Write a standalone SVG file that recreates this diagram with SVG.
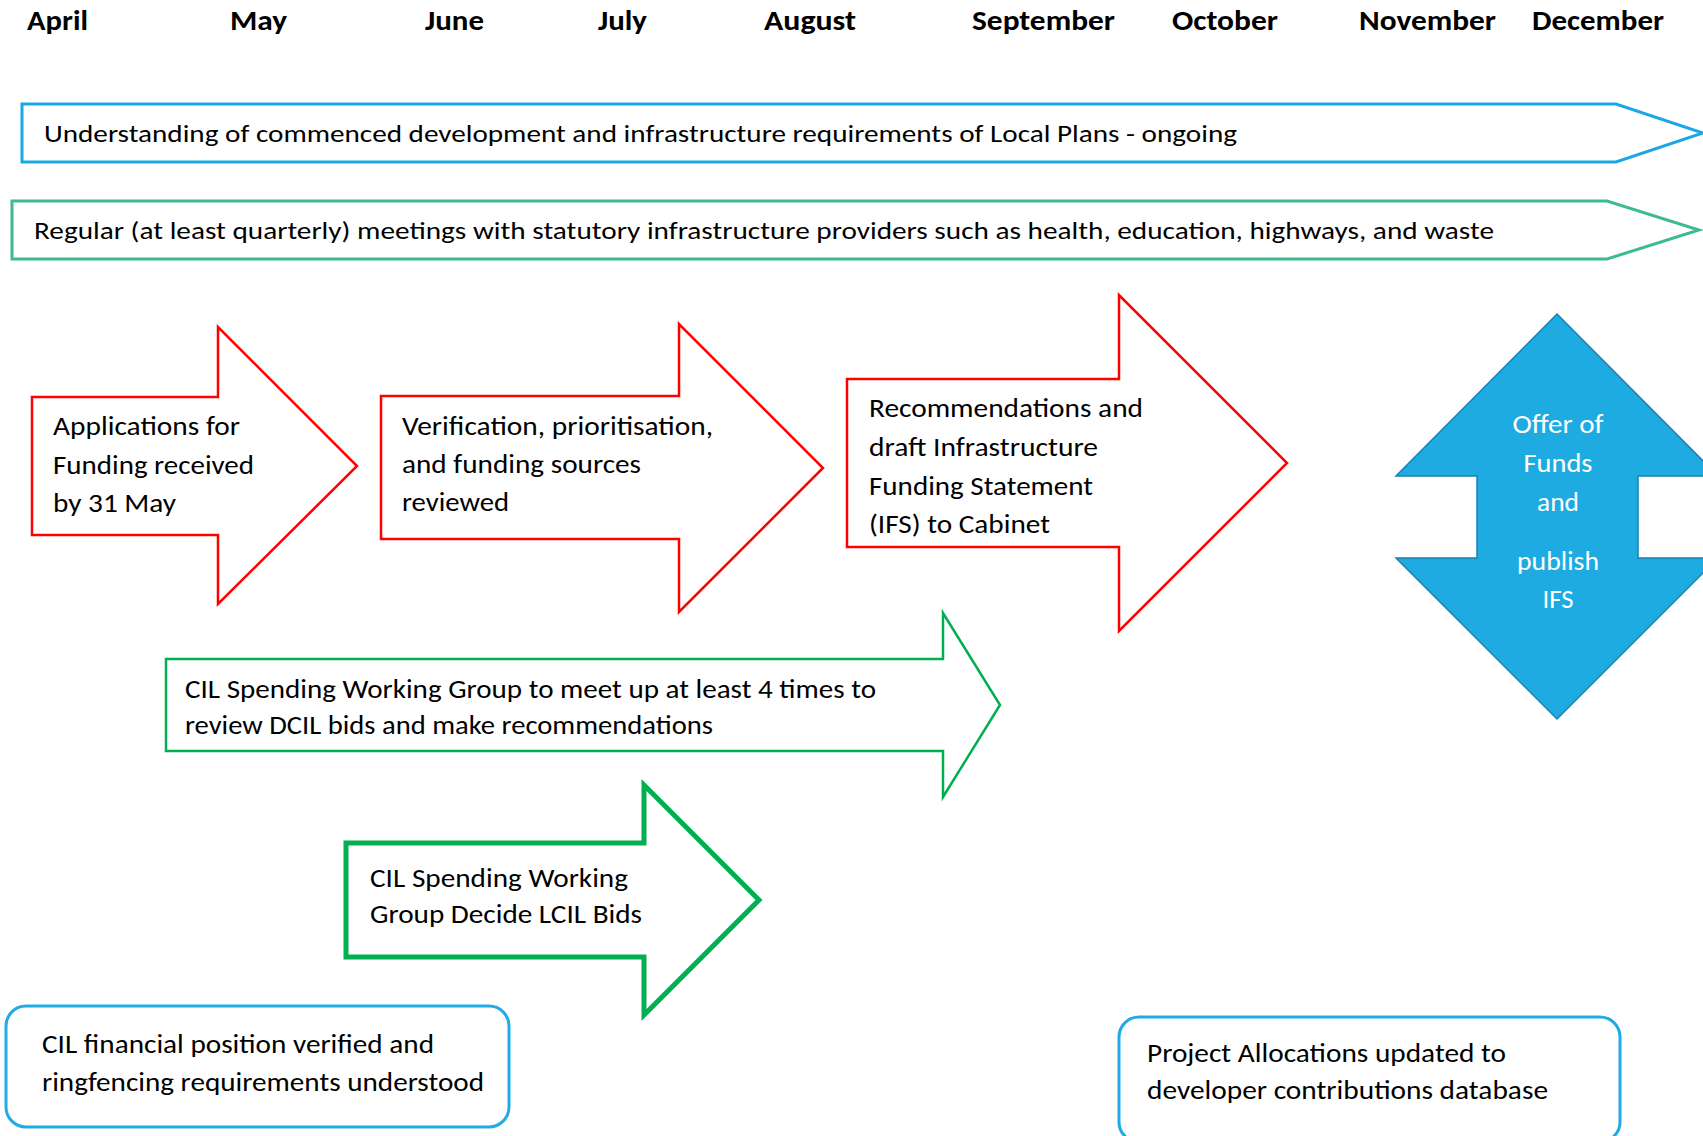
<svg xmlns="http://www.w3.org/2000/svg" width="1703" height="1136" viewBox="0 0 1703 1136">
<style>
text { font-family: Carlito, Calibri, Lato, "Noto Sans", sans-serif; fill: #000000; }
.month { font-size: 29px; font-weight: bold; }
.band { font-size: 25px; }
.body { font-size: 27px; }
.white { fill: #ffffff; }
.red { fill: #ffffff; stroke: #ff0000; stroke-width: 2.5; stroke-linejoin: miter; }
.grn { fill: #ffffff; stroke: #00b050; stroke-width: 2.5; }
.grnthick { fill: #ffffff; stroke: #00b050; stroke-width: 5; }
.blueband { fill: #ffffff; stroke: #1aa7e3; stroke-width: 3; }
.tealband { fill: #ffffff; stroke: #3dbb90; stroke-width: 3; }
.rbox { fill: #ffffff; stroke: #1eabe6; stroke-width: 3; }
</style>
<rect width="1703" height="1136" fill="#ffffff"/>
<g id="months">
<text class="month" x="27" y="30" textLength="61" lengthAdjust="spacingAndGlyphs">April</text>
<text class="month" x="230" y="30" textLength="57" lengthAdjust="spacingAndGlyphs">May</text>
<text class="month" x="425" y="30" textLength="59" lengthAdjust="spacingAndGlyphs">June</text>
<text class="month" x="598" y="30" textLength="49" lengthAdjust="spacingAndGlyphs">July</text>
<text class="month" x="764" y="30" textLength="92" lengthAdjust="spacingAndGlyphs">August</text>
<text class="month" x="972" y="30" textLength="143" lengthAdjust="spacingAndGlyphs">September</text>
<text class="month" x="1172" y="30" textLength="106" lengthAdjust="spacingAndGlyphs">October</text>
<text class="month" x="1359" y="30" textLength="137" lengthAdjust="spacingAndGlyphs">November</text>
<text class="month" x="1532" y="30" textLength="132" lengthAdjust="spacingAndGlyphs">December</text>
</g>
<g id="band-understanding">
<polygon class="blueband" points="22,104 1616,104 1703,133 1616,162 22,162"/>
<text class="band" x="44" y="142" textLength="1193" lengthAdjust="spacingAndGlyphs">Understanding of commenced development and infrastructure requirements of Local Plans - ongoing</text>
</g>
<g id="band-meetings">
<polygon class="tealband" points="12,201 1607,201 1699,230 1607,259 12,259"/>
<text class="band" x="34" y="239" textLength="1460" lengthAdjust="spacingAndGlyphs">Regular (at least quarterly) meetings with statutory infrastructure providers such as health, education, highways, and waste</text>
</g>
<g id="arrow-applications">
<polygon class="red" points="32,397 218,397 218,327 357,466 218,604 218,535 32,535"/>
<text class="body" x="53" y="435" textLength="187" lengthAdjust="spacingAndGlyphs">Applications for</text>
<text class="body" x="53" y="473.5" textLength="201" lengthAdjust="spacingAndGlyphs">Funding received</text>
<text class="body" x="53" y="512" textLength="123" lengthAdjust="spacingAndGlyphs">by 31 May</text>
</g>
<g id="arrow-verification">
<polygon class="red" points="381,396 679,396 679,324 823,468 679,612 679,539 381,539"/>
<text class="body" x="402" y="435" textLength="311" lengthAdjust="spacingAndGlyphs">Verification, prioritisation,</text>
<text class="body" x="402" y="473" textLength="239" lengthAdjust="spacingAndGlyphs">and funding sources</text>
<text class="body" x="402" y="511" textLength="107" lengthAdjust="spacingAndGlyphs">reviewed</text>
</g>
<g id="arrow-recommendations">
<polygon class="red" points="847,379 1119,379 1119,295 1287,463 1119,631 1119,547 847,547"/>
<text class="body" x="869" y="417" textLength="274" lengthAdjust="spacingAndGlyphs">Recommendations and</text>
<text class="body" x="869" y="456" textLength="229" lengthAdjust="spacingAndGlyphs">draft Infrastructure</text>
<text class="body" x="869" y="495" textLength="224" lengthAdjust="spacingAndGlyphs">Funding Statement</text>
<text class="body" x="869" y="533" textLength="181" lengthAdjust="spacingAndGlyphs">(IFS) to Cabinet</text>
</g>
<g id="offer-publish">
<polygon fill="#1eabe2" stroke="#1a80b4" stroke-width="1.5" points="1557,314 1718,476 1638,476 1638,558 1718,558 1557,719 1396,558 1477,558 1477,476 1396,476"/>
<text class="body white" x="1558" y="433" text-anchor="middle" textLength="91" lengthAdjust="spacingAndGlyphs">Offer of</text>
<text class="body white" x="1558" y="472" text-anchor="middle" textLength="69" lengthAdjust="spacingAndGlyphs">Funds</text>
<text class="body white" x="1558" y="511" text-anchor="middle" textLength="42" lengthAdjust="spacingAndGlyphs">and</text>
<text class="body white" x="1558" y="570" text-anchor="middle" textLength="82" lengthAdjust="spacingAndGlyphs">publish</text>
<text class="body white" x="1558" y="608" text-anchor="middle" textLength="31" lengthAdjust="spacingAndGlyphs">IFS</text>
</g>
<g id="arrow-dcil">
<polygon class="grn" points="166,659 943,659 943,613 1000,705 943,797 943,751 166,751"/>
<text class="body" x="185" y="698" textLength="691" lengthAdjust="spacingAndGlyphs">CIL Spending Working Group to meet up at least 4 times to</text>
<text class="body" x="185" y="734" textLength="528" lengthAdjust="spacingAndGlyphs">review DCIL bids and make recommendations</text>
</g>
<g id="arrow-lcil">
<polygon class="grnthick" points="346,843 644,843 644,785 759,900 644,1015 644,957 346,957"/>
<text class="body" x="370" y="887" textLength="258" lengthAdjust="spacingAndGlyphs">CIL Spending Working</text>
<text class="body" x="370" y="923" textLength="272" lengthAdjust="spacingAndGlyphs">Group Decide LCIL Bids</text>
</g>
<g id="box-financial">
<rect class="rbox" x="6" y="1006" width="503" height="121" rx="20" ry="20"/>
<text class="body" x="42" y="1053" textLength="392" lengthAdjust="spacingAndGlyphs">CIL financial position verified and</text>
<text class="body" x="42" y="1091" textLength="442" lengthAdjust="spacingAndGlyphs">ringfencing requirements understood</text>
</g>
<g id="box-allocations">
<rect class="rbox" x="1119" y="1017" width="501" height="125" rx="20" ry="20"/>
<text class="body" x="1147" y="1062" textLength="359" lengthAdjust="spacingAndGlyphs">Project Allocations updated to</text>
<text class="body" x="1147" y="1099" textLength="401" lengthAdjust="spacingAndGlyphs">developer contributions database</text>
</g>
<g id="connectors"></g>
</svg>
